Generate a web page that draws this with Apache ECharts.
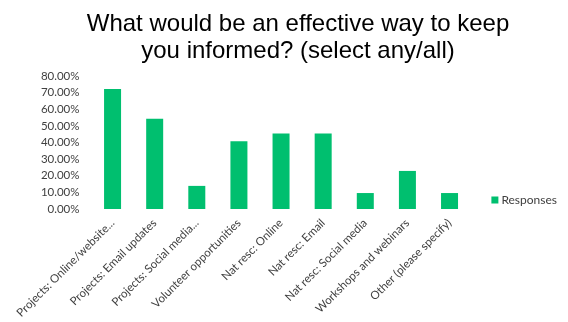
<!DOCTYPE html>
<html><head><meta charset="utf-8">
<script src="https://cdn.jsdelivr.net/npm/echarts@6/dist/echarts.min.js"></script>
<style>html,body{margin:0;padding:0;background:#fff}#c{width:568px;height:322px}</style>
</head><body><div id="c"></div>
<script>
var titleText = "What would be an effective way to keep\nyou informed? (select any/all)";
var categories = ["Projects: Online/website...","Projects: Email updates","Projects: Social media...","Volunteer opportunities","Nat resc: Online","Nat resc: Email","Nat resc: Social media","Workshops and webinars","Other (please specify)"];
var responses = [72.2, 54.3, 13.9, 40.8, 45.4, 45.4, 9.6, 22.9, 9.6];
var seriesName = "Responses";
var yTicks = {min: 0, max: 80, interval: 10};

var chart = echarts.init(document.getElementById('c'));
chart.setOption({
  animation: false,
  title: {text: titleText, left: 293, textAlign: 'center', top: 6,
    textStyle: {fontFamily: 'Liberation Sans, Arial', fontSize: 24, fontWeight: 'normal', color: '#000', lineHeight: 27}},
  legend: {data: [seriesName], right: 6, top: 189, itemWidth: 7, itemHeight: 7, itemGap: 4,
    icon: 'rect', textStyle: {fontFamily: 'Lato, Open Sans', fontSize: 12, color: '#404040', padding: [0,0,0,-2]}},
  grid: {left: 91.5, right: 97.4, top: 76, bottom: 113, containLabel: false},
  xAxis: {type: 'category', data: categories,
    axisLine: {show: false}, axisTick: {show: false},
    axisLabel: {rotate: 45, interval: 0, fontFamily: 'Lato, Open Sans', fontSize: 11.5, color: '#404040', margin: 12}},
  yAxis: {type: 'value', min: yTicks.min, max: yTicks.max, interval: yTicks.interval,
    splitLine: {show: false}, axisLine: {show: false}, axisTick: {show: false},
    axisLabel: {formatter: function(v){return v.toFixed(2) + '%';}, fontFamily: 'Lato, Open Sans', fontSize: 11.5, color: '#404040', margin: 12}},
  series: [{name: seriesName, type: 'bar', data: responses, barWidth: 17,
    itemStyle: {color: '#00BF6F'}}]
});
</script></body></html>
